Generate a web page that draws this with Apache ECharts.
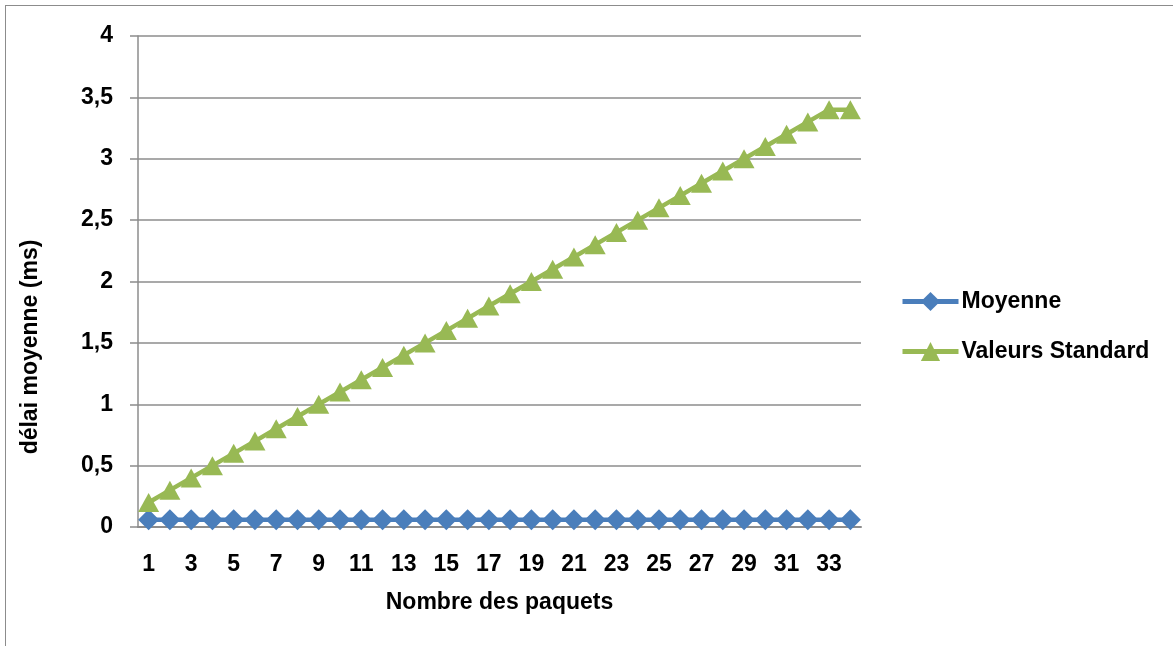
<!DOCTYPE html>
<html>
<head>
<meta charset="utf-8">
<script src="https://cdn.jsdelivr.net/npm/echarts@6/dist/echarts.min.js"></script>
<style>
  html, body { margin: 0; padding: 0; background: #fff; }
  #frame { position: absolute; left: 5px; top: 5px; width: 1180px; height: 660px; border: 1.5px solid #8c8c8c; box-sizing: border-box; }
  #chart { position: absolute; left: 0; top: 0; width: 1173px; height: 646px; }
</style>
</head>
<body>
<div id="frame"></div>
<div id="chart"></div>
<script>
// Packet counts along the x axis
const categories = ['1','2','3','4','5','6','7','8','9','10','11','12','13','14','15','16','17',
  '18','19','20','21','22','23','24','25','26','27','28','29','30','31','32','33','34'];

// Mean delay (ms)
const moyenne = [0.06,0.06,0.06,0.06,0.06,0.06,0.06,0.06,0.06,0.06,0.06,0.06,0.06,0.06,0.06,0.06,0.06,
  0.06,0.06,0.06,0.06,0.06,0.06,0.06,0.06,0.06,0.06,0.06,0.06,0.06,0.06,0.06,0.06,0.06];

// Standard reference values (ms)
const valeursStandard = [0.2,0.3,0.4,0.5,0.6,0.7,0.8,0.9,1.0,1.1,1.2,1.3,1.4,1.5,1.6,1.7,1.8,
  1.9,2.0,2.1,2.2,2.3,2.4,2.5,2.6,2.7,2.8,2.9,3.0,3.1,3.2,3.3,3.4,3.4];

const yTitle = 'délai moyenne (ms)';
const xTitle = 'Nombre des paquets';

const FONT = 'Liberation Sans';
const FS = 23;
const BLUE = '#4a7ebb';
const GREEN = '#98b954';

const chart = echarts.init(document.getElementById('chart'));
chart.setOption({
  animation: false,
  textStyle: { fontFamily: FONT },
  grid: { left: 138, right: 312, top: 36, bottom: 119 },
  legend: {
    orient: 'vertical',
    left: 900,
    top: 290,
    padding: 0,
    itemGap: 27,
    itemWidth: 56,
    itemHeight: 24,
    lineStyle: { width: 5 },
    textStyle: { fontFamily: FONT, fontWeight: 'bold', fontSize: FS, color: '#000', padding: [0, 0, 0, -2] },
    data: ['Moyenne', 'Valeurs Standard']
  },
  // vertical axis title, sitting a little below the plot's middle
  graphic: [{
    type: 'text',
    x: 31,
    y: 347,
    rotation: Math.PI / 2,
    style: {
      text: yTitle,
      fontFamily: FONT, fontWeight: 'bold', fontSize: FS, fill: '#000',
      align: 'center', verticalAlign: 'middle'
    }
  }],
  xAxis: {
    type: 'category',
    data: categories,
    boundaryGap: true,
    name: xTitle,
    nameLocation: 'middle',
    nameGap: 64,
    nameTextStyle: { fontFamily: FONT, fontWeight: 'bold', fontSize: FS, color: '#000' },
    axisLine: { lineStyle: { color: '#8c8c8c', width: 2 } },
    axisTick: { show: false },
    axisLabel: { interval: 1, fontFamily: FONT, fontWeight: 'bold', fontSize: FS, color: '#000', margin: 26 }
  },
  yAxis: {
    type: 'value',
    min: 0,
    max: 4,
    interval: 0.5,
    axisLine: { show: true, lineStyle: { color: '#8c8c8c', width: 1.5 } },
    axisTick: { show: true, length: 8, lineStyle: { color: '#8c8c8c', width: 1.5 } },
    splitLine: { lineStyle: { color: '#8c8c8c', width: 1.5 } },
    axisLabel: {
      fontFamily: FONT, fontWeight: 'bold', fontSize: FS, color: '#000', margin: 25,
      formatter: v => String(v).replace('.', ',')
    }
  },
  series: [
    {
      name: 'Moyenne',
      type: 'line',
      data: moyenne,
      showAllSymbol: true,
      symbol: 'diamond',
      symbolSize: [21, 21],
      itemStyle: { color: BLUE },
      lineStyle: { color: BLUE, width: 4.5 }
    },
    {
      name: 'Valeurs Standard',
      type: 'line',
      data: valeursStandard,
      showAllSymbol: true,
      symbol: 'triangle',
      symbolSize: [21, 19],
      itemStyle: { color: GREEN },
      lineStyle: { color: GREEN, width: 4.5 }
    }
  ]
});
</script>
</body>
</html>
